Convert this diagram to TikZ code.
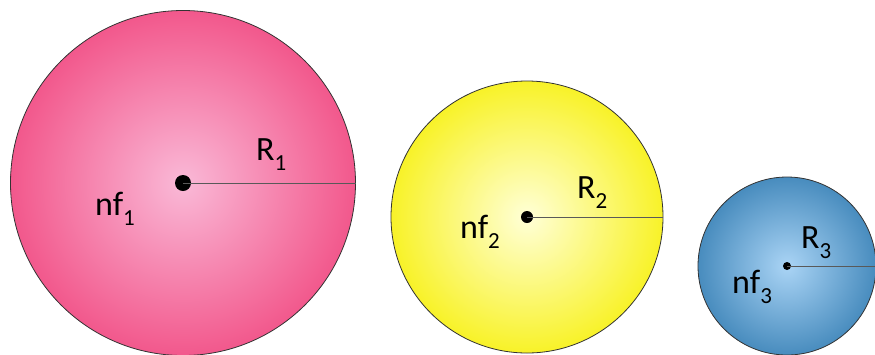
\documentclass[tikz,border=0pt]{standalone}
\usepackage{fontspec}
\setmainfont{Carlito}
\definecolor{rosaOut}{RGB}{242,88,140}
\definecolor{rosaIn}{RGB}{250,185,215}
\definecolor{amaOut}{RGB}{248,242,40}
\definecolor{amaIn}{RGB}{255,255,215}
\definecolor{azulOut}{RGB}{72,140,190}
\definecolor{azulIn}{RGB}{170,212,245}
\newcommand{\lowsub}[1]{\raisebox{-0.3em}{\fontsize{23}{23}\selectfont #1}}
\usetikzlibrary{positioning}

\begin{document}
\begin{tikzpicture}[
  x=1pt, y=-1pt,
  ball/.style={circle, draw=black!80, line width=0.8pt, inner sep=0pt, shading=radial},
  dotc/.style={circle, fill=black, inner sep=0pt},
  lbl/.style={anchor=base west, inner sep=0pt, font=\fontsize{34}{40}\selectfont},
  rad/.style={draw=black!65, line width=0.9pt}
]
\useasboundingbox[fill=white] (0,0) rectangle (875,354);

% Esfera 1
\node[ball, minimum size=345pt, inner color=rosaIn, outer color=rosaOut] (c1) at (183,183) {};
\node[dotc, minimum size=16pt] (d1) at (c1.center) {};
\draw[rad] (d1.center) -- (c1.east);
\node[lbl] (n1) at (95,215) {nf\lowsub{1}};
\node[lbl] (r1) at (256,160) {R\lowsub{1}};

% Esfera 2
\node[ball, minimum size=272pt, inner color=amaIn, outer color=amaOut] (c2) at (527,217) {};
\node[dotc, minimum size=12pt] (d2) at (c2.center) {};
\draw[rad] (d2.center) -- (c2.east);
\node[lbl] (n2) at (460,238) {nf\lowsub{2}};
\node[lbl] (r2) at (577,198) {R\lowsub{2}};

% Esfera 3
\node[ball, minimum size=178pt, inner color=azulIn, outer color=azulOut] (c3) at (787,266) {};
\node[dotc, minimum size=8pt] (d3) at (c3.center) {};
\draw[rad] (d3.center) -- (c3.east);
\node[lbl] (n3) at (732,293) {nf\lowsub{3}};
\node[lbl] (r3) at (801,248) {R\lowsub{3}};

\end{tikzpicture}
\end{document}
